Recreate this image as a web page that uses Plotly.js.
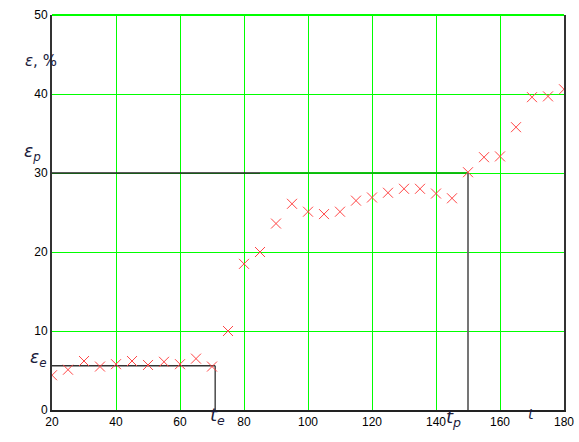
<!DOCTYPE html>
<html><head><meta charset="utf-8">
<script src="https://cdn.plot.ly/plotly-3.0.1.min.js"></script>
<style>html,body{margin:0;padding:0;background:#fff}#c{width:579px;height:442px}</style>
</head><body><div id="c"></div>
<script>
const tValues = [20,25,30,35,40,45,50,55,60,65,70,75,80,85,90,95,100,105,110,115,120,125,130,135,140,145,150,155,160,165,170,175,180];
const strainValues = [4.4,5.1,6.2,5.5,5.8,6.2,5.7,6.1,5.8,6.5,5.5,10.0,18.5,20.0,23.6,26.1,25.1,24.8,25.1,26.5,26.9,27.5,28.0,28.0,27.4,26.8,30.1,32.0,32.1,35.8,39.6,39.7,40.6];
const tE = 71, epsE = 5.6;
const tP = 150, epsP = 30;
const tSplit = 85;
const xTicks = [20,40,60,80,100,120,140,160,180];
const yTicks = [0,10,20,30,40,50];

const lblColor = '#1c1c3c';
const grid = '#00ff00';
const traces = [
  {x:[20,tE], y:[epsE,epsE], mode:'lines', line:{color:'#333',width:1.3}},
  {x:[tE,tE], y:[0,epsE], mode:'lines', line:{color:'#555',width:1.6}},
  {x:[20,tP], y:[epsP,epsP], mode:'lines', line:{color:'#222',width:1.6}},
  {x:[tSplit,tP], y:[epsP,epsP], mode:'lines', line:{color:'#00e000',width:1.6}},
  {x:[tP,tP], y:[0,epsP], mode:'lines', line:{color:'#666',width:1.8}},
  {x:tValues, y:strainValues, mode:'markers', hoverinfo:'skip',
   marker:{symbol:'x-thin-open', size:10, line:{color:'rgb(255,70,70)', width:1}, color:'rgb(255,70,70)'}}
];
const epsFont = {family:'DejaVu Sans', size:17, color:lblColor};
const tFont = {family:'DejaVu Sans', size:18, color:lblColor};
const layout = {
  width:579, height:442, showlegend:false,
  paper_bgcolor:'#fff', plot_bgcolor:'#fff',
  margin:{l:52, r:15, t:15, b:32},
  font:{family:'Liberation Sans, Arial', size:12, color:'#000'},
  xaxis:{range:[20,180], tickvals:xTicks, ticktext:xTicks.map(String), showgrid:true, gridcolor:grid, gridwidth:1,
         showline:true, linecolor:'#222', linewidth:2, mirror:false, zeroline:false, ticks:'', ticklen:0, tickfont:{size:12}},
  yaxis:{range:[0,50], tickvals:yTicks, ticktext:yTicks.map(String), showgrid:true, gridcolor:grid, gridwidth:1,
         showline:true, linecolor:'#333', linewidth:2, mirror:true, zeroline:false, ticks:'', ticklen:0, tickfont:{size:12}},
  shapes:[{type:'line', xref:'paper', yref:'paper', x0:0, x1:1, y0:1, y1:1, line:{color:grid, width:2}, layer:'above'}],
  annotations:[
    {x:-0.0566, y:0.911, xref:'paper', yref:'paper', text:'<i>ε</i>, %', showarrow:false, font:{family:'DejaVu Sans', size:15, color:lblColor}},
    {x:-0.0586, y:0.651, xref:'paper', yref:'paper', text:'<i>ε<sub>p</sub></i>', showarrow:false, font:epsFont},
    {x:-0.047, y:0.096, xref:'paper', yref:'paper', text:'<i>ε<sub>e</sub></i>', showarrow:false, font:epsFont},
    {x:0.305, y:-0.051, xref:'paper', yref:'paper', text:'<i>t<sub>e</sub></i>', showarrow:false, font:tFont},
    {x:0.803, y:-0.056, xref:'paper', yref:'paper', text:'<i>t<sub>p</sub></i>', showarrow:false, font:tFont},
    {x:0.945, y:-0.035, xref:'paper', yref:'paper', text:'<i>t</i>', showarrow:false, font:{family:'DejaVu Sans', size:14, color:lblColor}}
  ]
};
Plotly.newPlot('c', traces, layout, {displayModeBar:false});
</script></body></html>
